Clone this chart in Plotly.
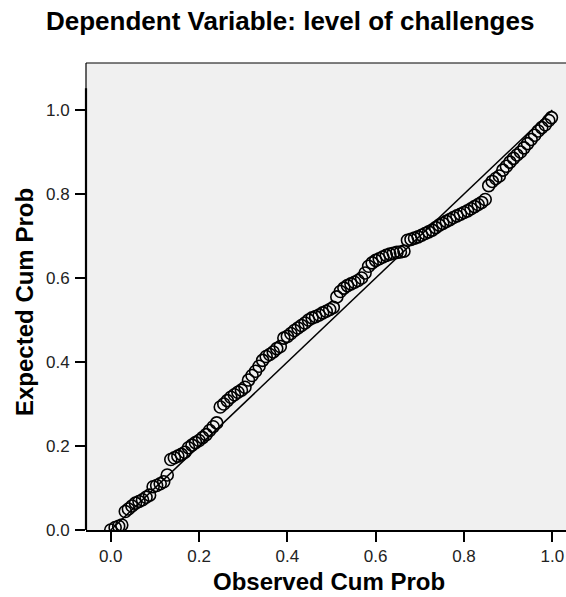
import plotly.graph_objects as go

title_text = "Dependent Variable: level of challenges"
x_title = "Observed Cum Prob"
y_title = "Expected Cum Prob"

obs_cum_prob = [
    0.000, 0.010, 0.018, 0.025, 0.033, 0.040, 0.048, 0.056, 0.064, 0.072,
    0.080, 0.088, 0.096, 0.104, 0.112, 0.120, 0.128, 0.136, 0.144, 0.152,
    0.160, 0.168, 0.176, 0.184, 0.192, 0.200, 0.208, 0.216, 0.224, 0.232,
    0.240, 0.248, 0.256, 0.264, 0.272, 0.280, 0.288, 0.296, 0.304, 0.312,
    0.320, 0.328, 0.336, 0.344, 0.352, 0.360, 0.368, 0.376, 0.384, 0.392,
    0.400, 0.408, 0.416, 0.424, 0.432, 0.440, 0.448, 0.456, 0.464, 0.472,
    0.480, 0.488, 0.496, 0.504, 0.512, 0.520, 0.528, 0.536, 0.544, 0.552,
    0.560, 0.568, 0.576, 0.584, 0.592, 0.600, 0.608, 0.616, 0.624, 0.632,
    0.640, 0.648, 0.656, 0.664, 0.672, 0.680, 0.688, 0.696, 0.704, 0.712,
    0.720, 0.728, 0.736, 0.744, 0.752, 0.760, 0.768, 0.776, 0.784, 0.792,
    0.800, 0.808, 0.816, 0.824, 0.832, 0.840, 0.848, 0.856, 0.864, 0.872,
    0.880, 0.888, 0.896, 0.904, 0.912, 0.920, 0.928, 0.936, 0.944, 0.952,
    0.960, 0.968, 0.976, 0.984, 0.992, 0.998,
]
exp_cum_prob = [
    0.000, 0.006, 0.009, 0.012, 0.044, 0.050, 0.057, 0.064, 0.068, 0.072,
    0.078, 0.083, 0.103, 0.106, 0.110, 0.115, 0.131, 0.168, 0.172, 0.176,
    0.180, 0.185, 0.196, 0.202, 0.208, 0.213, 0.220, 0.227, 0.237, 0.246,
    0.255, 0.293, 0.300, 0.308, 0.316, 0.322, 0.328, 0.333, 0.340, 0.357,
    0.368, 0.378, 0.390, 0.404, 0.413, 0.418, 0.424, 0.432, 0.437, 0.457,
    0.461, 0.468, 0.475, 0.481, 0.487, 0.493, 0.500, 0.505, 0.508, 0.512,
    0.517, 0.521, 0.525, 0.530, 0.555, 0.568, 0.576, 0.582, 0.586, 0.590,
    0.594, 0.600, 0.612, 0.628, 0.636, 0.642, 0.646, 0.650, 0.654, 0.657,
    0.659, 0.661, 0.662, 0.664, 0.690, 0.692, 0.695, 0.698, 0.702, 0.706,
    0.710, 0.714, 0.720, 0.726, 0.730, 0.735, 0.739, 0.744, 0.748, 0.752,
    0.756, 0.760, 0.765, 0.770, 0.775, 0.780, 0.787, 0.820, 0.830, 0.837,
    0.843, 0.857, 0.866, 0.876, 0.885, 0.893, 0.900, 0.910, 0.920, 0.930,
    0.940, 0.950, 0.958, 0.965, 0.975, 0.982,
]
ref_x = [0.0, 1.0]
ref_y = [0.0, 1.0]
tick_vals = [0.0, 0.2, 0.4, 0.6, 0.8, 1.0]
tick_text = ["0.0", "0.2", "0.4", "0.6", "0.8", "1.0"]

FONT = "Liberation Sans, Arial, sans-serif"

fig = go.Figure()
fig.add_trace(go.Scatter(
    x=ref_x, y=ref_y, mode="lines",
    line=dict(color="black", width=1.5),
    hoverinfo="skip", showlegend=False,
))
fig.add_trace(go.Scatter(
    x=obs_cum_prob, y=exp_cum_prob, mode="markers",
    marker=dict(symbol="circle-open", size=12, color="black",
                line=dict(color="black", width=1.6)),
    showlegend=False,
))

fig.update_layout(
    width=566, height=597,
    margin=dict(l=86, r=0, t=63, b=67),
    paper_bgcolor="white",
    plot_bgcolor="#f0f0f0",
    font=dict(family=FONT, color="#222222", size=17),
    xaxis=dict(
        range=[-0.056, 1.031], tickvals=tick_vals, ticktext=tick_text,
        showgrid=False, zeroline=False,
        showline=True, linecolor="black", linewidth=2,
        ticks="outside", ticklen=10, tickwidth=2, tickcolor="black",
        tickfont=dict(size=17, color="#222222"),
        ticklabelstandoff=0,
    ),
    yaxis=dict(
        range=[0.0, 1.112], tickvals=tick_vals, ticktext=tick_text,
        showgrid=False, zeroline=False, showline=False,
        ticks="outside", ticklen=10, tickwidth=2, tickcolor="black",
        tickfont=dict(size=17, color="#222222"),
        ticklabelstandoff=2,
    ),
    shapes=[
        dict(type="line", xref="paper", yref="paper", x0=0, x1=1, y0=1, y1=1,
             line=dict(color="black", width=1.2), layer="above"),
        dict(type="line", xref="paper", yref="paper", x0=0, x1=0, y0=0, y1=1,
             line=dict(color="black", width=1.2), layer="above"),
        dict(type="line", xref="paper", yref="y", x0=0, x1=0, y0=0, y1=1.052,
             line=dict(color="black", width=2.2), layer="above"),
    ],
    annotations=[
        dict(text="<b>" + title_text + "</b>", xref="paper", yref="paper",
             x=(290 - 86) / 480, y=(530 - 21) / 467, xanchor="center", yanchor="middle",
             showarrow=False, font=dict(size=26, color="black", family=FONT)),
        dict(text="<b>" + x_title + "</b>", xref="paper", yref="paper",
             x=(328.5 - 86) / 480, y=(530 - 596.5) / 467, xanchor="center", yanchor="bottom",
             showarrow=False, font=dict(size=24, color="black", family=FONT)),
        dict(text="<b>" + y_title + "</b>", xref="paper", yref="paper",
             x=(24 - 86) / 480, y=(530 - 302) / 467, xanchor="center", yanchor="middle",
             textangle=-90,
             showarrow=False, font=dict(size=24, color="black", family=FONT)),
    ],
)

fig.write_html("out.html")
